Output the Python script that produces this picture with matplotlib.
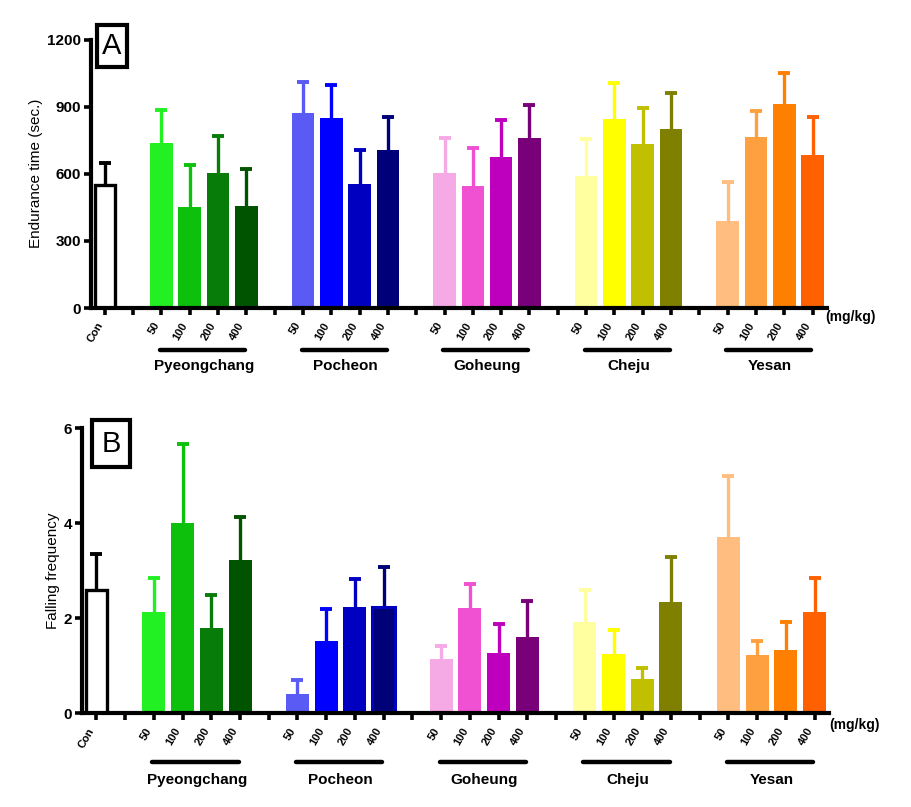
import matplotlib

matplotlib.use("Agg")

import matplotlib.pyplot as plt
from matplotlib.patches import Rectangle
from matplotlib.transforms import blended_transform_factory

plt.rcParams["font.family"] = ["Liberation Sans", "DejaVu Sans"]

# --- data -------------------------------------------------------------------
groups = ["Pyeongchang", "Pocheon", "Goheung", "Cheju", "Yesan"]
doses = ["50", "100", "200", "400"]
group_colors = [
    ["#22F022", "#0CC00C", "#087C08", "#005400"],
    ["#5A5AF5", "#0000FF", "#0000C0", "#000078"],
    ["#F5AAE6", "#F050D2", "#BE00BE", "#780078"],
    ["#FFFFA0", "#FFFF00", "#C0C000", "#808000"],
    ["#FFBE80", "#FFA040", "#FF8000", "#FF6000"],
]

# panel A: endurance time (sec.), mean and upper SE
endurance_con = 550
endurance_con_err = 100
endurance = [
    [737, 452, 603, 456],
    [870, 847, 556, 704],
    [605, 546, 677, 760],
    [590, 843, 731, 801],
    [389, 765, 910, 684],
]
endurance_err = [
    [146, 186, 164, 164],
    [138, 148, 152, 148],
    [153, 171, 161, 147],
    [165, 161, 161, 158],
    [172, 115, 139, 169],
]

# panel B: falling frequency
falling_con = 2.60
falling_con_err = 0.75
falling = [
    [2.13, 4.01, 1.80, 3.23],
    [0.41, 1.52, 2.23, 2.23],
    [1.14, 2.22, 1.26, 1.61],
    [1.92, 1.24, 0.72, 2.35],
    [3.72, 1.22, 1.33, 2.13],
]
falling_err = [
    [0.72, 1.65, 0.69, 0.91],
    [0.29, 0.67, 0.59, 0.84],
    [0.27, 0.50, 0.63, 0.75],
    [0.67, 0.52, 0.23, 0.94],
    [1.28, 0.30, 0.59, 0.71],
]


def up_err(ax, x, val, err, col):
    # one-sided (upper) error bar with a cap, drawn behind the bar
    ax.plot([x, x], [val, val + err], color=col, lw=2.4, zorder=1,
            solid_capstyle="butt")
    ax.plot([x], [val + err], marker="_", ms=9, mew=2.8, color=col, zorder=1)


def draw_panel(ax, con, con_err, vals, errs, ymax, yticks, ylabel, letter,
               letter_box, line_y, label_y, unit_xy):
    # slot 0 = Con, slot 1 blank, then 4 doses + 1 blank per group
    ax.bar(0, con, width=0.72, color="white", edgecolor="black", linewidth=2.4, zorder=2)
    up_err(ax, 0, con, con_err, "black")
    ticks = [0, 1]
    labels = ["Con", ""]
    trans = blended_transform_factory(ax.transData, ax.transAxes)
    for g, name in enumerate(groups):
        start = 2 + g * 5
        for d in range(4):
            x = start + d
            col = group_colors[g][d]
            ax.bar(x, vals[g][d], width=0.8, color=col, zorder=2)
            up_err(ax, x, vals[g][d], errs[g][d], col)
            ticks.append(x)
            labels.append(doses[d])
        ticks.append(start + 4)
        labels.append("")
        ax.plot([start - 0.05, start + 2.95], [line_y, line_y], color="black",
                lw=3.2, solid_capstyle="round", transform=trans, clip_on=False)
        ax.text(start + 1.5, label_y, name, transform=trans, ha="center",
                va="center", fontsize=11, fontweight="bold")
    ticks = ticks[:-1]
    labels = labels[:-1]

    ax.set_xlim(-0.5, 25.5)
    ax.set_ylim(0, ymax)
    ax.set_xticks(ticks)
    ax.set_xticklabels(labels, rotation=60, ha="right", fontsize=8,
                       fontweight="bold")
    ax.set_yticks(yticks)
    ax.set_yticklabels([str(t) for t in yticks], fontsize=11, fontweight="bold")
    ax.set_ylabel(ylabel, fontsize=11, labelpad=3)
    for side in ("top", "right"):
        ax.spines[side].set_visible(False)
    for side in ("left", "bottom"):
        ax.spines[side].set_linewidth(3)
    ax.tick_params(axis="both", width=2.6, length=5, pad=2)
    ax.tick_params(axis="x", pad=4)

    ax.text(unit_xy[0], unit_xy[1], "(mg/kg)", transform=ax.transAxes,
            ha="left", va="center", fontsize=10, fontweight="bold")

    fig = ax.figure
    bx, by, bw, bh = letter_box
    fig.add_artist(Rectangle((bx, by), bw, bh, transform=fig.transFigure,
                             fill=False, edgecolor="black", linewidth=3))
    fig.text(bx + bw / 2, by + bh / 2, letter, ha="center", va="center",
             fontsize=21)


fig = plt.figure(figsize=(9.12, 8.07), dpi=100)
W, H = 912, 807
axA = fig.add_axes([90.7 / W, 1 - 308 / H, 736 / W, 268.5 / H])
axB = fig.add_axes([82 / W, 1 - 713.3 / H, 747 / W, 285 / H])

draw_panel(axA, endurance_con, endurance_con_err, endurance, endurance_err,
           1200, [0, 300, 600, 900, 1200], "Endurance time (sec.)", "A",
           (97 / W, 1 - 67 / H, 30 / W, 42 / H), -0.155, -0.215, (0.998, -0.033))
draw_panel(axB, falling_con, falling_con_err, falling, falling_err,
           6, [0, 2, 4, 6], "Falling frequency", "B",
           (92 / W, 1 - 467 / H, 38 / W, 47 / H), -0.172, -0.235, (1.0, -0.041))

# Pocheon 400 in panel B is outlined in the 200 colour
axB.patches[8].set_edgecolor("#0000C0")
axB.patches[8].set_linewidth(2.2)

fig.savefig("out.png", dpi=100)
